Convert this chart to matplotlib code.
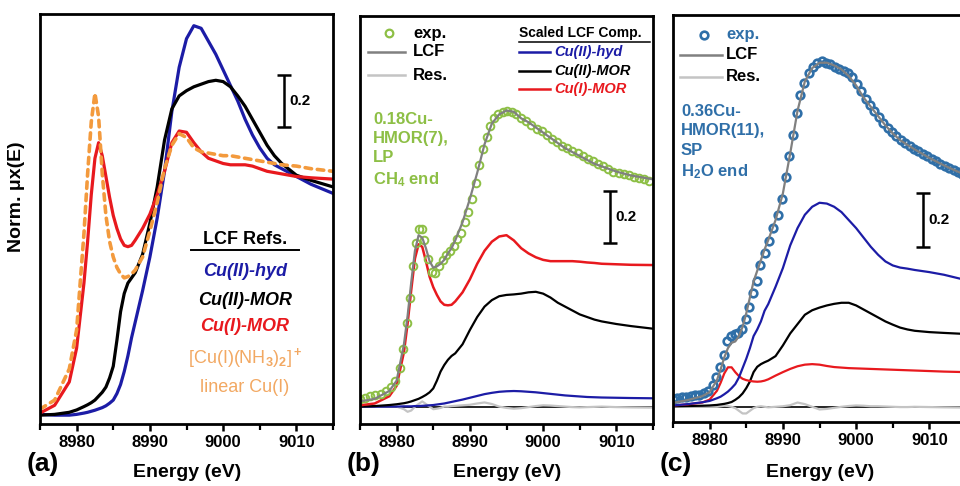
import matplotlib
matplotlib.use('Agg')
import matplotlib.pyplot as plt
from matplotlib.ticker import MultipleLocator

plt.rcParams['font.family'] = ['Liberation Sans', 'DejaVu Sans']
plt.rcParams['font.weight'] = 'bold'
plt.rcParams['mathtext.fontset'] = 'custom'
plt.rcParams['mathtext.rm'] = 'Liberation Sans'
plt.rcParams['mathtext.it'] = 'Liberation Sans:italic'
plt.rcParams['mathtext.bf'] = 'Liberation Sans:bold'

BLUE = '#1c1ca6'
RED = '#e8191e'
ORANGE = '#f39a3d'
ORANGE_TXT = '#f2a862'
GREEN = '#8dbf45'
STEEL = '#2f6fa8'
LCF_GRAY = '#808080'
RES_GRAY = '#c4c4c4'

# energy grid shared by the reference / component curves (eV)
energy = [8975, 8977, 8979, 8980,
          8981, 8981.5, 8982, 8982.5, 8983, 8983.5, 8984, 8984.5, 8985, 8985.5,
          8986, 8986.5, 8987, 8987.5, 8988,
          8989, 8990, 8991, 8992, 8993, 8994, 8995, 8996, 8997, 8998, 8999,
          9000, 9001, 9002, 9003, 9004, 9005, 9006, 9007, 9008,
          9010, 9012, 9015]

# (a) LCF references
ref_hyd = [-0.005, -0.008, -0.008, -0.005,
           0.0, 0.003, 0.007, 0.011, 0.016, 0.021, 0.028, 0.038, 0.05, 0.075, 0.11, 0.16, 0.22, 0.29, 0.35,
           0.47, 0.60, 0.75, 0.93, 1.16, 1.33, 1.44, 1.49, 1.48, 1.43, 1.38, 1.32, 1.26, 1.20, 1.13, 1.07, 1.02, 0.98, 0.955, 0.94,
           0.91, 0.88, 0.845]
ref_cu2mor = [-0.008, -0.005, 0.003, 0.012,
              0.025, 0.032, 0.04, 0.05, 0.065, 0.08, 0.10, 0.135, 0.18, 0.28, 0.39, 0.46, 0.50, 0.52, 0.54,
              0.61, 0.73, 0.87, 1.05, 1.17, 1.22, 1.24, 1.255, 1.265, 1.275, 1.28, 1.275, 1.255, 1.22, 1.18, 1.13, 1.08, 1.03, 0.99, 0.96,
              0.915, 0.895, 0.87]
ref_cu1mor = [0.0, 0.03, 0.12, 0.25,
              0.50, 0.66, 0.84, 0.98, 1.04, 0.99, 0.91, 0.83, 0.76, 0.71, 0.67, 0.645, 0.64, 0.645, 0.665,
              0.71, 0.765, 0.84, 0.93, 1.04, 1.085, 1.08, 1.04, 1.005, 0.98, 0.97, 0.96, 0.955, 0.955, 0.955, 0.95, 0.94, 0.93, 0.925, 0.92,
              0.91, 0.905, 0.90]
ref_nh3 = [0.015, 0.05, 0.17, 0.32,
           0.69, 0.92, 1.12, 1.23, 1.14, 0.92, 0.76, 0.66, 0.60, 0.56, 0.535, 0.52, 0.525, 0.535, 0.55,
           0.60, 0.70, 0.81, 0.94, 1.03, 1.075, 1.06, 1.02, 1.005, 1.0, 0.995, 0.99, 0.99, 0.985, 0.98, 0.975, 0.97, 0.965, 0.96, 0.955,
           0.95, 0.94, 0.93]

# (b) 0.18Cu-HMOR(7), LP, CH4 end
exp_b_e = [8975.0, 8975.7, 8976.4, 8977.1, 8977.8, 8978.5, 8979.2, 8979.8, 8980.4, 8980.9,
           8981.4, 8981.8, 8982.2, 8982.6, 8983.0, 8983.4, 8983.8, 8984.3, 8984.8, 8985.3,
           8985.8, 8986.3, 8986.8, 8987.3, 8987.8, 8988.3, 8988.8, 8989.3, 8989.8, 8990.3,
           8990.8, 8991.3, 8991.8, 8992.3, 8992.8, 8993.3, 8993.9, 8994.5, 8995.1, 8995.7,
           8996.3, 8997.0, 8997.7, 8998.4, 8999.1, 8999.8, 9000.5, 9001.2, 9001.9, 9002.6,
           9003.3, 9004.0, 9004.7, 9005.4, 9006.1, 9006.8, 9007.5, 9008.2, 9008.9, 9009.6,
           9010.3, 9011.0, 9011.7, 9012.4, 9013.1, 9013.8, 9014.5]
exp_b = [0.03, 0.035, 0.04, 0.045, 0.05, 0.06, 0.075, 0.10, 0.15, 0.22,
         0.32, 0.42, 0.54, 0.63, 0.685, 0.685, 0.64, 0.57, 0.52, 0.515,
         0.54, 0.565, 0.585, 0.60, 0.62, 0.645, 0.67, 0.71, 0.75, 0.80,
         0.86, 0.93, 0.99, 1.04, 1.08, 1.11, 1.125, 1.135, 1.14, 1.135,
         1.125, 1.11, 1.10, 1.085, 1.07, 1.06, 1.045, 1.03, 1.02, 1.005,
         0.995, 0.985, 0.975, 0.965, 0.955, 0.945, 0.935, 0.925, 0.915, 0.905,
         0.90, 0.895, 0.89, 0.885, 0.88, 0.875, 0.87]
lcf_b = [0.02, 0.03, 0.06, 0.10,
         0.24, 0.35, 0.48, 0.60, 0.66, 0.65, 0.61, 0.56, 0.535, 0.54, 0.55, 0.565, 0.59, 0.61, 0.64,
         0.71, 0.80, 0.90, 1.01, 1.09, 1.125, 1.14, 1.135, 1.11, 1.095, 1.075, 1.055, 1.035, 1.015, 0.995, 0.98, 0.965, 0.95, 0.935, 0.925,
         0.905, 0.89, 0.875]
res_b = [0.0, 0.0, 0.0, 0.0,
         -0.01, -0.02, -0.015, 0.0, 0.01, 0.02, 0.01, 0.0, -0.01, -0.008, -0.005, 0.0, 0.0, 0.002, 0.003,
         0.005, 0.007, 0.012, 0.016, 0.01, 0.0, -0.005, -0.008, -0.006, -0.002, 0.002, 0.005, 0.004, 0.002, 0.0, -0.002, -0.003, -0.002, -0.001, 0.0,
         -0.002, -0.003, -0.004]
hyd_b = [0.0, 0.0, 0.0, 0.0,
         0.001, 0.001, 0.001, 0.002, 0.002, 0.003, 0.004, 0.005, 0.006, 0.008, 0.01, 0.012, 0.015, 0.018, 0.021,
         0.027, 0.034, 0.041, 0.048, 0.053, 0.057, 0.059, 0.06, 0.059, 0.057, 0.055, 0.052, 0.049, 0.046, 0.043, 0.041, 0.039, 0.037, 0.036, 0.035,
         0.034, 0.033, 0.032]
cu2mor_b = [0.0, 0.002, 0.006, 0.009,
            0.013, 0.016, 0.02, 0.025, 0.03, 0.037, 0.045, 0.055, 0.07, 0.10, 0.135, 0.16, 0.18, 0.195, 0.205,
            0.24, 0.295, 0.345, 0.385, 0.41, 0.425, 0.43, 0.432, 0.435, 0.44, 0.442, 0.435, 0.42, 0.40, 0.385, 0.37, 0.355, 0.345, 0.335, 0.328,
            0.318, 0.31, 0.30]
cu1mor_b = [0.005, 0.012, 0.04, 0.08,
            0.21, 0.32, 0.45, 0.57, 0.625, 0.615, 0.56, 0.50, 0.46, 0.43, 0.405, 0.392, 0.39, 0.392, 0.405,
            0.44, 0.49, 0.55, 0.60, 0.635, 0.655, 0.66, 0.64, 0.61, 0.59, 0.575, 0.565, 0.56, 0.56, 0.56, 0.56, 0.558, 0.555, 0.553, 0.55,
            0.548, 0.546, 0.545]

# (c) 0.36Cu-HMOR(11), SP, H2O end
exp_c_e = [8975.0, 8975.6, 8976.2, 8976.8, 8977.4, 8978.0, 8978.6, 8979.2, 8979.8, 8980.4,
           8980.9, 8981.4, 8981.9, 8982.4, 8982.9, 8983.4, 8983.9, 8984.4, 8984.9, 8985.4,
           8985.9, 8986.4, 8986.9, 8987.5, 8988.1, 8988.7, 8989.3, 8989.9, 8990.4, 8990.9,
           8991.4, 8991.9, 8992.4, 8992.9, 8993.5, 8994.1, 8994.7, 8995.3, 8995.9, 8996.5,
           8997.1, 8997.7, 8998.3, 8998.9, 8999.5, 9000.1, 9000.7, 9001.3, 9001.9, 9002.5,
           9003.1, 9003.7, 9004.3, 9004.9, 9005.5, 9006.1, 9006.7, 9007.3, 9007.9, 9008.5,
           9009.1, 9009.7, 9010.3, 9010.9, 9011.5, 9012.1, 9012.7, 9013.3, 9013.9, 9014.5]
exp_c = [0.03, 0.032, 0.035, 0.038, 0.04, 0.043, 0.046, 0.05, 0.06, 0.08,
         0.11, 0.15, 0.195, 0.245, 0.265, 0.272, 0.278, 0.29, 0.33, 0.375,
         0.425, 0.47, 0.53, 0.575, 0.62, 0.67, 0.72, 0.78, 0.86, 0.94,
         1.02, 1.10, 1.17, 1.215, 1.25, 1.275, 1.29, 1.295, 1.29, 1.285,
         1.275, 1.265, 1.26, 1.25, 1.235, 1.21, 1.185, 1.155, 1.13, 1.11,
         1.085, 1.065, 1.045, 1.03, 1.015, 1.0, 0.99, 0.978, 0.968, 0.958,
         0.948, 0.94, 0.93, 0.922, 0.912, 0.903, 0.895, 0.887, 0.88, 0.873]
lcf_c = [0.015, 0.025, 0.04, 0.055,
         0.10, 0.14, 0.185, 0.22, 0.24, 0.245, 0.265, 0.30, 0.35, 0.41, 0.47, 0.51, 0.55, 0.59, 0.625,
         0.70, 0.80, 0.95, 1.11, 1.22, 1.27, 1.29, 1.29, 1.28, 1.265, 1.24, 1.205, 1.16, 1.125, 1.09, 1.055, 1.025, 1.0, 0.982, 0.965,
         0.933, 0.905, 0.868]
res_c = [0.0, 0.0, 0.0, 0.0,
         0.0, 0.002, 0.004, 0.003, 0.0, -0.005, -0.015, -0.025, -0.025, -0.015, -0.005, 0.0, 0.002, 0.0, -0.002,
         0.0, 0.002, 0.006, 0.016, 0.01, 0.0, -0.01, -0.008, -0.004, 0.0, 0.003, 0.005, 0.004, 0.002, 0.002, 0.001, 0.0, -0.001, -0.001, 0.0,
         -0.001, -0.002, -0.003]
hyd_c = [0.005, 0.01, 0.017, 0.022,
         0.032, 0.038, 0.047, 0.057, 0.07, 0.085, 0.11, 0.145, 0.18, 0.22, 0.265, 0.29, 0.32, 0.36, 0.385,
         0.45, 0.52, 0.605, 0.67, 0.72, 0.75, 0.765, 0.762, 0.75, 0.73, 0.70, 0.67, 0.635, 0.60, 0.57, 0.545, 0.53, 0.522, 0.518, 0.513,
         0.505, 0.495, 0.475]
cu2mor_c = [0.002, 0.003, 0.004, 0.005,
            0.007, 0.009, 0.011, 0.014, 0.018, 0.026, 0.036, 0.05, 0.07, 0.095, 0.13, 0.15, 0.16, 0.167, 0.173,
            0.19, 0.23, 0.275, 0.31, 0.345, 0.362, 0.372, 0.38, 0.386, 0.39, 0.39, 0.38, 0.365, 0.35, 0.335, 0.32, 0.308, 0.297, 0.29, 0.285,
            0.28, 0.277, 0.273]
cu1mor_c = [0.005, 0.009, 0.016, 0.027,
            0.06, 0.09, 0.125, 0.148, 0.148, 0.13, 0.115, 0.105, 0.10, 0.097, 0.095, 0.094, 0.095, 0.098, 0.103,
            0.117, 0.13, 0.142, 0.152, 0.158, 0.16, 0.158, 0.153, 0.149, 0.147, 0.145, 0.144, 0.143, 0.142, 0.141, 0.14, 0.139, 0.138, 0.137, 0.136,
            0.134, 0.132, 0.13]

xlim = (8975, 9015)
xticks = [8980, 8990, 9000, 9010]


def style_axes(ax, ylim):
    ax.set_xlim(*xlim)
    ax.set_ylim(*ylim)
    ax.set_xticks(xticks)
    ax.xaxis.set_minor_locator(MultipleLocator(5))
    ax.set_yticks([])
    ax.tick_params(axis='x', which='major', direction='out', length=5, width=1.8,
                   labelsize=12, pad=3)
    ax.tick_params(axis='x', which='minor', direction='out', length=4, width=1.6)
    for sp in ax.spines.values():
        sp.set_linewidth(2.0)


def scale_bar(ax, x, y0, y1):
    ax.errorbar([x], [(y0 + y1) / 2], yerr=[(y1 - y0) / 2], color='k', lw=1.8,
                capsize=5, capthick=1.8)
    ax.text(x + 0.7, (y0 + y1) / 2, '0.2', fontsize=11, va='center', ha='left')


def fit_legend(ax, exp_kw, exp_color, x0, x1, xt, ys):
    ax.plot([(x0 + x1) / 2 + 0.01], [ys[0]], transform=ax.transAxes, ls='none', **exp_kw)
    ax.text(xt, ys[0], 'exp.', transform=ax.transAxes, color=exp_color, fontsize=12, va='center')
    ax.plot([x0, x1], [ys[1], ys[1]], transform=ax.transAxes, color=LCF_GRAY, lw=1.8)
    ax.text(xt, ys[1], 'LCF', transform=ax.transAxes, fontsize=12, va='center')
    ax.plot([x0, x1], [ys[2], ys[2]], transform=ax.transAxes, color=RES_GRAY, lw=1.8)
    ax.text(xt, ys[2], 'Res.', transform=ax.transAxes, fontsize=12, va='center')


fig = plt.figure(figsize=(9.6, 4.86), dpi=100)
W, H = 960.0, 486.0
ax_a = fig.add_axes([40 / W, 62 / H, 293 / W, 410 / H])
ax_b = fig.add_axes([360 / W, 62 / H, 293 / W, 408 / H])
ax_c = fig.add_axes([673 / W, 64 / H, 293 / W, 407 / H])

# ---- (a)
ax_a.plot(energy, ref_hyd, color=BLUE, lw=2.3)
ax_a.plot(energy, ref_cu2mor, color='k', lw=2.3)
ax_a.plot(energy, ref_cu1mor, color=RED, lw=2.3)
ax_a.plot(energy, ref_nh3, color=ORANGE, lw=2.6, ls=(0, (1.8, 1.6)), dash_capstyle='round')
style_axes(ax_a, (-0.042, 1.535))
scale_bar(ax_a, 9008.3, 1.10, 1.30)
fig.text(17 / W, 1 - 197 / H, 'Norm. \u03bcx(E)', fontsize=14, rotation=90,
         ha='center', va='center')

cx = 0.70
ax_a.text(cx, 0.449, 'LCF Refs.', transform=ax_a.transAxes, fontsize=13, ha='center', va='center')
ax_a.plot([0.515, 0.885], [0.424, 0.424], transform=ax_a.transAxes, color='k', lw=1.4)
ax_a.text(cx, 0.371, 'Cu(II)-hyd', transform=ax_a.transAxes, fontsize=13, style='italic',
          color=BLUE, ha='center', va='center')
ax_a.text(cx, 0.302, 'Cu(II)-MOR', transform=ax_a.transAxes, fontsize=13, style='italic',
          color='k', ha='center', va='center')
ax_a.text(cx, 0.237, 'Cu(I)-MOR', transform=ax_a.transAxes, fontsize=13, style='italic',
          color=RED, ha='center', va='center')
ax_a.text(cx, 0.161, r'[Cu(I)(NH$_3$)$_2$]$^+$', transform=ax_a.transAxes, fontsize=13,
          fontweight='normal', color=ORANGE_TXT, ha='center', va='center')
ax_a.text(cx, 0.088, 'linear Cu(I)', transform=ax_a.transAxes, fontsize=13,
          fontweight='normal', color=ORANGE_TXT, ha='center', va='center')

# ---- (b)
ax_b.axhline(0, color='k', lw=1.2)
ax_b.plot(energy, res_b, color=RES_GRAY, lw=1.6)
ax_b.plot(energy, hyd_b, color=BLUE, lw=1.6)
ax_b.plot(energy, cu2mor_b, color='k', lw=1.6)
ax_b.plot(energy, cu1mor_b, color=RED, lw=1.8)
ax_b.plot(exp_b_e, exp_b, ls='none', marker='o', ms=5.5, mfc='none', mec=GREEN, mew=1.4)
ax_b.plot(energy, lcf_b, color=LCF_GRAY, lw=1.6)
style_axes(ax_b, (-0.067, 1.504))
scale_bar(ax_b, 9009.1, 0.63, 0.83)
fit_legend(ax_b, dict(marker='o', ms=5.5, mfc='none', mec=GREEN, mew=1.6), 'k',
           0.027, 0.154, 0.181, [0.958, 0.912, 0.855])
ax_b.text(0.543, 0.958, 'Scaled LCF Comp.', transform=ax_b.transAxes, fontsize=10, va='center')
ax_b.plot([0.543, 0.99], [0.936, 0.936], transform=ax_b.transAxes, color='k', lw=1.1)
for yy, lab, col in [(0.912, 'Cu(II)-hyd', BLUE), (0.865, 'Cu(II)-MOR', 'k'), (0.821, 'Cu(I)-MOR', RED)]:
    ax_b.plot([0.543, 0.65], [yy, yy], transform=ax_b.transAxes, color=col, lw=1.8)
    ax_b.text(0.662, yy, lab, transform=ax_b.transAxes, fontsize=10.5, style='italic',
              color=col, va='center')
ax_b.text(0.044, 0.765, '0.18Cu-\nHMOR(7),\nLP\nCH$_\\mathbf{4}$ end', transform=ax_b.transAxes,
          fontsize=12, color=GREEN, va='top', ha='left', linespacing=1.35)

# ---- (c)
ax_c.axhline(0, color='k', lw=1.2)
ax_c.plot(energy, res_c, color=RES_GRAY, lw=1.6)
ax_c.plot(energy, cu2mor_c, color='k', lw=1.6)
ax_c.plot(energy, cu1mor_c, color=RED, lw=1.6)
ax_c.plot(energy, hyd_c, color=BLUE, lw=1.6)
ax_c.plot(exp_c_e, exp_c, ls='none', marker='o', ms=5.5, mfc='none', mec=STEEL, mew=1.9)
ax_c.plot(energy, lcf_c, color=LCF_GRAY, lw=1.6)
style_axes(ax_c, (-0.057, 1.469))
scale_bar(ax_c, 9009.1, 0.60, 0.80)
fit_legend(ax_c, dict(marker='o', ms=5.5, mfc='none', mec=STEEL, mew=1.9), STEEL,
           0.024, 0.167, 0.181, [0.951, 0.902, 0.848])
ax_c.text(0.027, 0.781, '0.36Cu-\nHMOR(11),\nSP\nH$_\\mathbf{2}$O end', transform=ax_c.transAxes,
          fontsize=12, color=STEEL, va='top', ha='left', linespacing=1.35)

# panel letters and x labels
for left, letter in [(40, '(a)'), (360, '(b)'), (673, '(c)')]:
    fig.text((left - 13) / W, 1 - 464 / H, letter, fontsize=19, ha='left', va='center')
    fig.text((left + 147) / W, 1 - 472 / H, 'Energy (eV)', fontsize=14, ha='center', va='center')

fig.savefig('out.png', dpi=100)
